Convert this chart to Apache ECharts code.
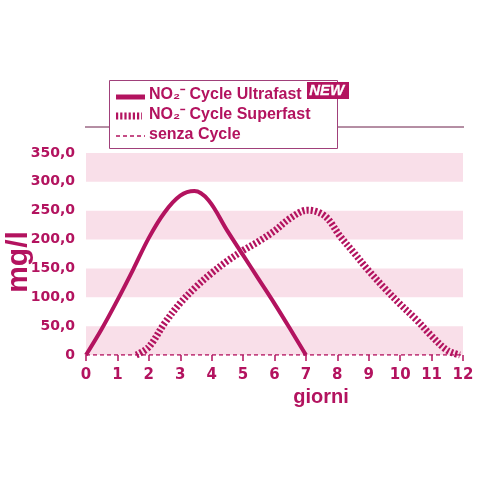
<!DOCTYPE html>
<html>
<head>
<meta charset="utf-8">
<script src="https://cdn.jsdelivr.net/npm/echarts@6/dist/echarts.min.js"></script>
<style>
html, body { margin: 0; padding: 0; background: #fff; }
#main { width: 481px; height: 481px; }
</style>
</head>
<body>
<div id="main"></div>
<script>
// giorni / mg/l
var ultrafast = [[0, 0], [0.5, 45], [1, 95], [1.5, 148], [2, 203], [2.5, 247], [3, 276], [3.45, 284], [3.9, 268], [4.5, 215], [5, 173], [5.5, 131], [6, 89], [6.5, 45], [7, 0]]
var superfast = [[1.6, 0], [2, 14], [2.5, 55], [3, 90], [3.5, 118], [4, 142], [4.5, 163], [5, 181], [5.5, 197], [6, 215], [6.5, 237], [7.05, 251], [7.6, 241], [8.1, 205], [8.5, 179], [9, 146], [9.5, 116], [10, 88], [10.5, 62], [11, 33], [11.5, 8], [11.9, 0]]
var senza = [[0, 0], [12, 0]]
var yTicks = [0, 50, 100, 150, 200, 250, 300, 350]

var rosa = '#b3135f'
var font = 'Liberation Sans'
var fontNum = 'DejaVu Sans'

var chart = echarts.init(document.getElementById('main'))

chart.setOption({
  animation: false,
  grid: { left: 86, right: 18, top: 153, bottom: 126 },
  xAxis: {
    type: 'value',
    min: 0,
    max: 12,
    interval: 1,
    axisLine: { show: false },
    axisTick: { show: true, length: 6, lineStyle: { color: rosa, width: 1.5 } },
    splitLine: { show: false },
    axisLabel: { color: rosa, fontFamily: fontNum, fontWeight: 'bold', fontSize: 15, margin: 13 }
  },
  yAxis: {
    type: 'value',
    min: yTicks[0],
    max: yTicks[yTicks.length - 1],
    interval: 50,
    axisLine: { show: false },
    axisTick: { show: false },
    splitLine: { show: false },
    splitArea: { show: true, areaStyle: { color: ['#f9dfe9', 'rgba(255,255,255,0)'] } },
    axisLabel: {
      color: rosa,
      fontFamily: fontNum,
      fontWeight: 'bold',
      fontSize: 14,
      margin: 11,
      formatter: function(v) {
        return v === 0 ? '0' : v.toFixed(1).replace('.', ',')
      }
    }
  },
  series: [
    {
      name: 'senza Cycle',
      type: 'line',
      data: senza,
      showSymbol: false,
      lineStyle: { color: rosa, width: 1.5, type: [4, 3] },
      z: 1
    },
    {
      name: 'NO2- Cycle Superfast',
      type: 'line',
      data: superfast,
      smooth: 0.35,
      showSymbol: false,
      lineStyle: { color: rosa, width: 7, type: [2.2, 2], cap: 'butt' },
      z: 2
    },
    {
      name: 'NO2- Cycle Ultrafast',
      type: 'line',
      data: ultrafast,
      smooth: 0.35,
      showSymbol: false,
      lineStyle: { color: rosa, width: 4 },
      z: 3
    }
  ],
  graphic: [
    // linea in alto
    { type: 'line', shape: { x1: 85, y1: 127, x2: 464, y2: 127 }, style: { stroke: '#6a1e48', lineWidth: 1 } },
    // riquadro legenda
    { type: 'rect', shape: { x: 109.5, y: 80.5, width: 228, height: 68 }, style: { fill: '#fff', stroke: '#a0407a', lineWidth: 1 }, z: 10 },
    { type: 'line', shape: { x1: 116, y1: 97, x2: 145, y2: 97 }, style: { stroke: rosa, lineWidth: 5 }, z: 11 },
    { type: 'line', shape: { x1: 116, y1: 116, x2: 142, y2: 116 }, style: { stroke: rosa, lineWidth: 7, lineDash: [2.2, 2] }, z: 11 },
    { type: 'line', shape: { x1: 116, y1: 136, x2: 145, y2: 136 }, style: { stroke: rosa, lineWidth: 1.5, lineDash: [4, 3] }, z: 11 },
    { type: 'text', left: 149, top: 87, style: { text: 'NO₂⁻ Cycle Ultrafast', fill: rosa, font: 'bold 16px ' + font }, z: 11 },
    { type: 'rect', shape: { x: 307, y: 82, width: 42, height: 17 }, style: { fill: rosa }, z: 11 },
    { type: 'text', left: 309, top: 83, style: { text: 'NEW', fill: '#fff', font: 'italic bold 15px ' + font, stroke: '#fff', lineWidth: 0.3 }, z: 12 },
    { type: 'text', left: 149, top: 107, style: { text: 'NO₂⁻ Cycle Superfast', fill: rosa, font: 'bold 16px ' + font }, z: 11 },
    { type: 'text', left: 149, top: 127, style: { text: 'senza Cycle', fill: rosa, font: 'bold 16px ' + font }, z: 11 },
    // titoli assi
    { type: 'text', x: 321, y: 397, style: { text: 'giorni', fill: rosa, font: 'bold 20px ' + font, textAlign: 'center', textVerticalAlign: 'middle' } },
    { type: 'text', x: 19, y: 262, rotation: Math.PI / 2, style: { text: 'mg/l', fill: rosa, font: 'bold 30px ' + font, textAlign: 'center', textVerticalAlign: 'middle' } }
  ]
})
</script>
</body>
</html>
